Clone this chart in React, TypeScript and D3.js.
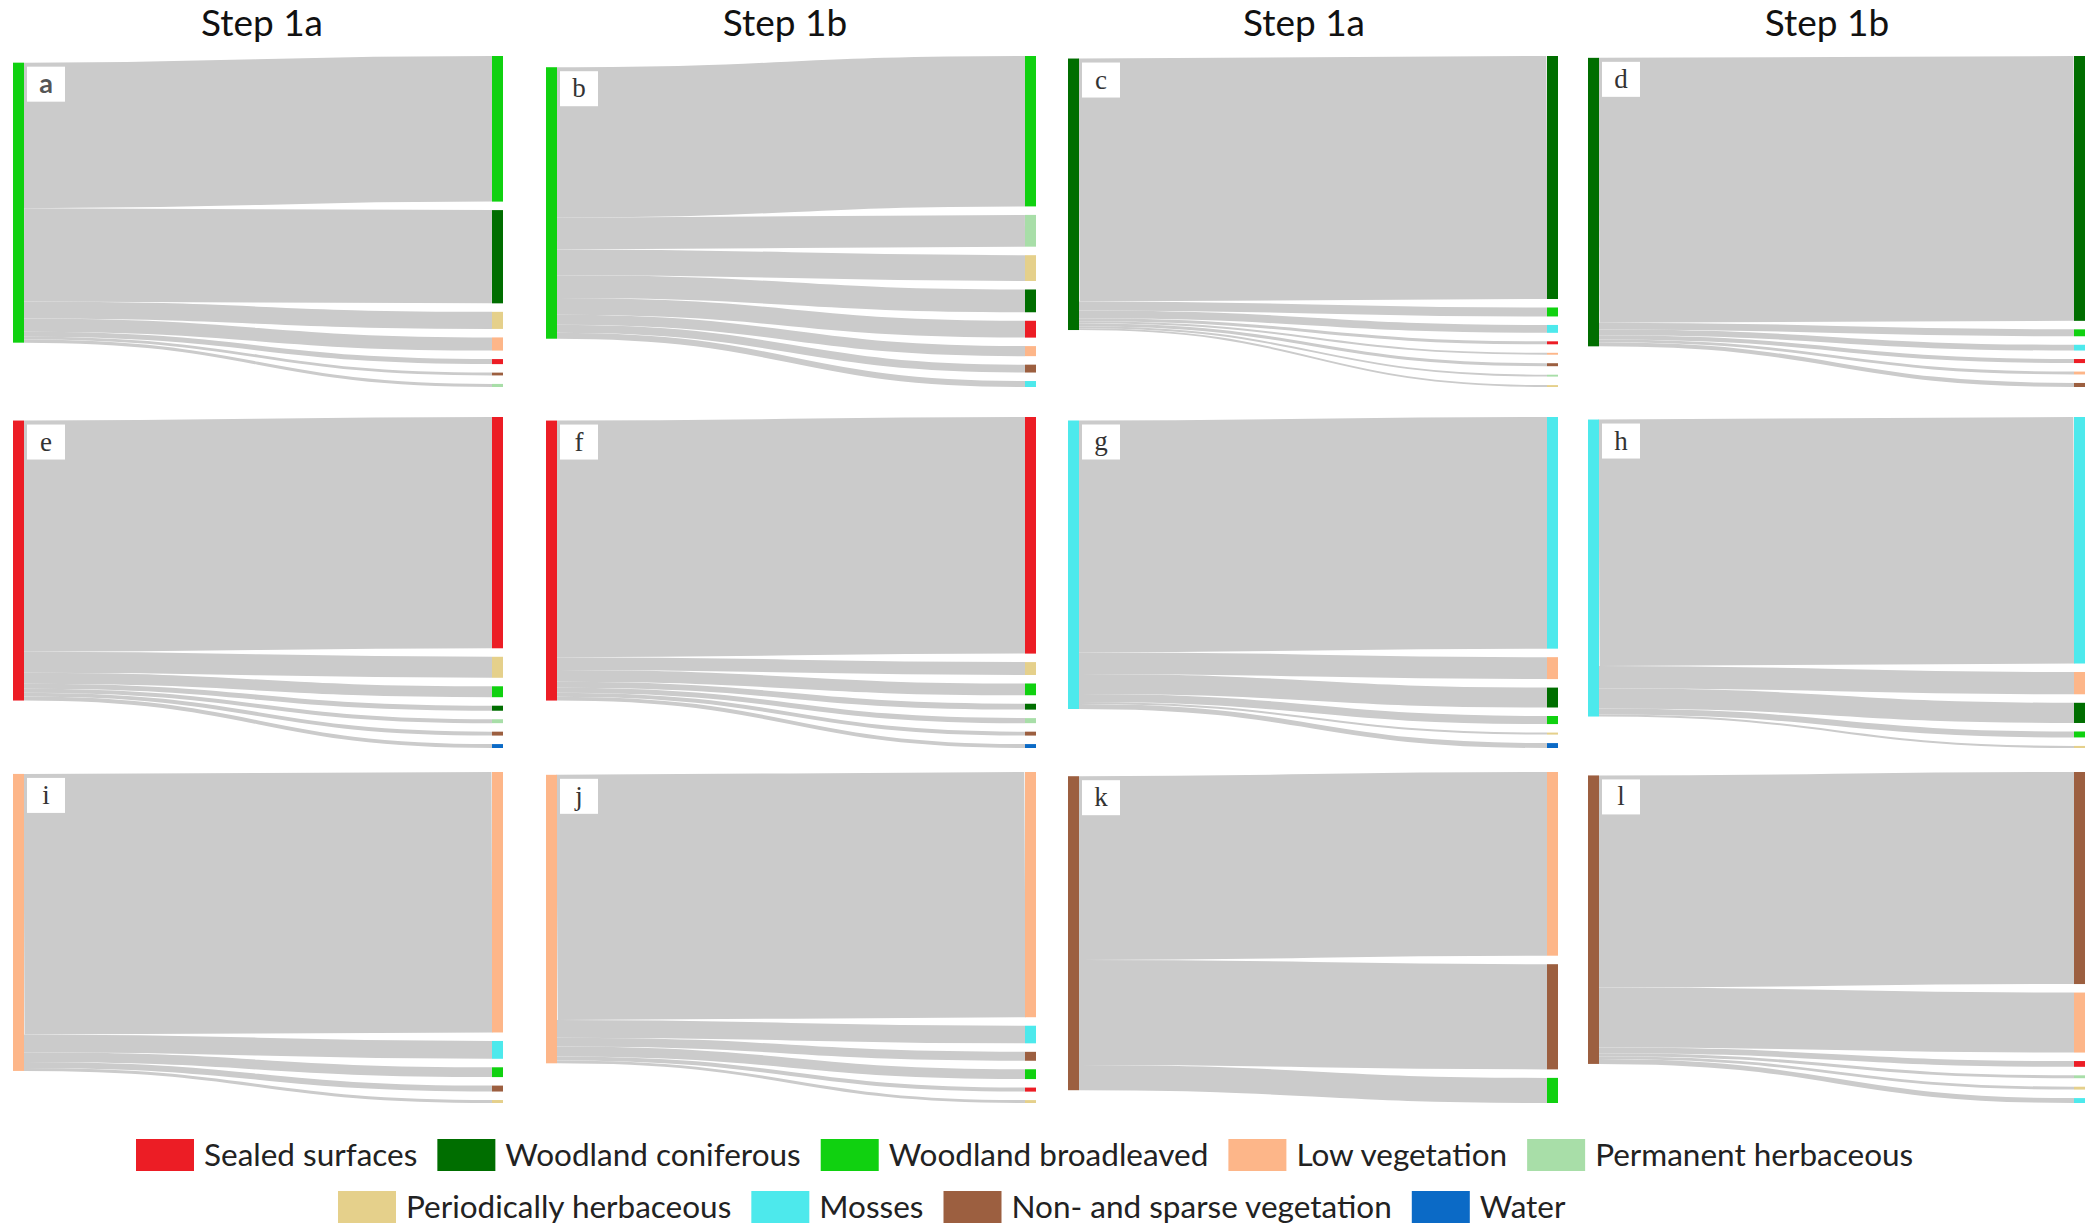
import React, { useEffect, useRef } from 'react';
import * as d3 from 'd3';

// Land-cover classes
const classCodes = ['SS', 'WC', 'WB', 'LV', 'PH', 'PE', 'MO', 'NS', 'WA'];
const classNames = [
  'Sealed surfaces',
  'Woodland coniferous',
  'Woodland broadleaved',
  'Low vegetation',
  'Permanent herbaceous',
  'Periodically herbaceous',
  'Mosses',
  'Non- and sparse vegetation',
  'Water',
];
const classColors = ['#ec1d25', '#006e00', '#10d110', '#fdb689', '#a8dea8', '#e5d08b', '#4de9ec', '#9c5f40', '#0b6ac6'];

const stepTitles = ['Step 1a', 'Step 1b', 'Step 1a', 'Step 1b'];
const panelLetters = ['a', 'b', 'c', 'd', 'e', 'f', 'g', 'h', 'i', 'j', 'k', 'l'];
const panelSources = ['WB', 'WB', 'WC', 'WC', 'SS', 'SS', 'MO', 'MO', 'LV', 'LV', 'NS', 'NS'];

// Flows (share of source class, %) — targets in drawn order
const panelA_targets = ['WB', 'WC', 'PE', 'LV', 'SS', 'NS', 'PH'];
const panelA_values = [52.0, 33.3, 6.1, 4.7, 1.8, 1.0, 1.1];
const panelB_targets = ['WB', 'PH', 'PE', 'WC', 'SS', 'LV', 'NS', 'MO'];
const panelB_values = [55.4, 11.7, 9.5, 8.4, 6.2, 3.7, 2.9, 2.2];
const panelC_targets = ['WC', 'WB', 'MO', 'SS', 'LV', 'NS', 'PH', 'PE'];
const panelC_values = [89.5, 3.3, 2.9, 1.1, 0.7, 1.1, 0.7, 0.7];
const panelD_targets = ['WC', 'WB', 'MO', 'SS', 'LV', 'NS'];
const panelD_values = [91.8, 2.4, 2.0, 1.4, 1.0, 1.4];
const panelE_targets = ['SS', 'PE', 'WB', 'WC', 'PH', 'NS', 'WA'];
const panelE_values = [82.6, 7.5, 3.9, 1.8, 1.4, 1.4, 1.4];
const panelF_targets = ['SS', 'PE', 'WB', 'WC', 'PH', 'NS', 'WA'];
const panelF_values = [84.5, 4.6, 4.2, 2.1, 1.8, 1.4, 1.4];
const panelG_targets = ['MO', 'LV', 'WC', 'WB', 'PE', 'WA'];
const panelG_values = [80.3, 7.6, 6.9, 2.8, 0.7, 1.7];
const panelH_targets = ['MO', 'LV', 'WC', 'WB', 'PE'];
const panelH_values = [83.0, 7.5, 6.8, 2.0, 0.7];
const panelI_targets = ['LV', 'MO', 'WB', 'NS', 'PE'];
const panelI_values = [87.7, 6.0, 3.3, 2.0, 1.0];
const panelJ_targets = ['LV', 'MO', 'NS', 'WB', 'SS', 'PE'];
const panelJ_values = [85.0, 6.1, 3.1, 3.4, 1.4, 1.0];
const panelK_targets = ['LV', 'NS', 'WB'];
const panelK_values = [58.5, 33.5, 8.0];
const panelL_targets = ['NS', 'LV', 'SS', 'PH', 'PE', 'MO'];
const panelL_values = [73.5, 20.8, 2.0, 1.0, 1.0, 1.7];

const legendRow1 = ['SS', 'WC', 'WB', 'LV', 'PH'];
const legendRow2 = ['PE', 'MO', 'NS', 'WA'];

const panelTargets = [
  panelA_targets, panelB_targets, panelC_targets, panelD_targets,
  panelE_targets, panelF_targets, panelG_targets, panelH_targets,
  panelI_targets, panelJ_targets, panelK_targets, panelL_targets,
];
const panelValues = [
  panelA_values, panelB_values, panelC_values, panelD_values,
  panelE_values, panelF_values, panelG_values, panelH_values,
  panelI_values, panelJ_values, panelK_values, panelL_values,
];

// Layout
const W = 2086;
const H = 1225;
const colLeft = [13, 546, 1068, 1588];
const colRight = [492, 1025, 1547, 2074];
const titleX = [262, 785, 1304, 1827];
const rowTop = [56, 417, 772];
const rowBottom = [387, 748, 1103];
const nodeW = 11;
const nodePad = 8.5;
const linkColor = '#cbcbcb';

export default function App() {
  const ref = useRef<SVGSVGElement>(null);

  useEffect(() => {
    const svg = d3.select(ref.current);
    svg.selectAll('*').remove();

    const color = d3.scaleOrdinal<string, string>().domain(classCodes).range(classColors);
    const label = d3.scaleOrdinal<string, string>().domain(classCodes).range(classNames);

    // Titles
    svg.selectAll('text.title')
      .data(stepTitles)
      .join('text')
      .attr('class', 'title')
      .attr('x', (_d, i) => titleX[i])
      .attr('y', 36)
      .attr('text-anchor', 'middle')
      .attr('font-family', 'Lato, "Open Sans", sans-serif')
      .attr('font-size', 37)
      .attr('fill', '#111')
      .text((d) => d);

    const link = d3.linkHorizontal<any, any>()
      .source((d: any) => d.source)
      .target((d: any) => d.target);

    panelLetters.forEach((letter, p) => {
      const col = p % 4;
      const row = Math.floor(p / 4);
      const values = panelValues[p];
      const targets = panelTargets[p];
      const n = values.length;
      const total = d3.sum(values);
      const yTop = rowTop[row];
      const yBot = rowBottom[row];
      const ky = (yBot - yTop - (n - 1) * nodePad) / total;
      const hScale = d3.scaleLinear().domain([0, total]).range([0, total * ky]);

      // target nodes
      let yAcc = yTop;
      const tNodes = values.map((v, i) => {
        const h = hScale(v);
        const node = { code: targets[i], y0: yAcc, y1: yAcc + h };
        yAcc += h + nodePad;
        return node;
      });
      // source link offsets
      let off = 0;
      const offs = values.map((v) => {
        const h = hScale(v);
        const o = { a: off, c: off + h / 2 };
        off += h;
        return o;
      });
      // source position by weighted relaxation toward targets
      const srcY0 = d3.sum(values, (v, i) => v * ((tNodes[i].y0 + tNodes[i].y1) / 2 - offs[i].c)) / total;
      const srcH = hScale(total);

      const xL = colLeft[col];
      const xR = colRight[col];
      const g = svg.append('g');

      const links = values.map((v, i) => ({
        width: hScale(v),
        source: [xL + nodeW, srcY0 + offs[i].c],
        target: [xR, (tNodes[i].y0 + tNodes[i].y1) / 2],
      }));

      g.append('g')
        .selectAll('path')
        .data(links)
        .join('path')
        .attr('d', (d) => link(d) as string)
        .attr('fill', 'none')
        .attr('stroke', linkColor)
        .attr('stroke-width', (d) => Math.max(1.2, d.width));

      // source node
      g.append('rect')
        .attr('x', xL)
        .attr('y', srcY0)
        .attr('width', nodeW)
        .attr('height', srcH)
        .attr('fill', color(panelSources[p]));

      // target nodes
      g.append('g')
        .selectAll('rect')
        .data(tNodes)
        .join('rect')
        .attr('x', xR)
        .attr('y', (d) => d.y0)
        .attr('width', nodeW)
        .attr('height', (d) => Math.max(1.5, d.y1 - d.y0))
        .attr('fill', (d) => color(d.code));

      // letter box
      const bx = xL + nodeW + 3;
      const by = srcY0 + 4;
      g.append('rect')
        .attr('x', bx)
        .attr('y', by)
        .attr('width', 38)
        .attr('height', 35)
        .attr('fill', '#ffffff');
      g.append('text')
        .attr('x', bx + 19)
        .attr('y', by + 26)
        .attr('text-anchor', 'middle')
        .attr('font-family', letter === 'a' ? 'Lato, sans-serif' : '"Liberation Serif", "DejaVu Serif", serif')
        .attr('font-weight', letter === 'a' ? 700 : 400)
        .attr('font-size', 27)
        .attr('fill', letter === 'a' ? '#555' : '#333')
        .text(letter);
    });

    // Legend
    const drawLegendRow = (codes: string[], startX: number, cy: number) => {
      let x = startX;
      codes.forEach((c) => {
        svg.append('rect')
          .attr('x', x)
          .attr('y', cy - 16)
          .attr('width', 58)
          .attr('height', 32)
          .attr('fill', color(c));
        const t = svg.append('text')
          .attr('x', x + 68)
          .attr('y', cy + 11)
          .attr('font-family', 'Lato, "Open Sans", sans-serif')
          .attr('font-size', 31.5)
          .attr('fill', '#222')
          .text(label(c));
        const w = (t.node() as SVGTextElement).getComputedTextLength();
        x = x + 68 + w + 20;
      });
    };
    drawLegendRow(legendRow1, 136, 1155);
    drawLegendRow(legendRow2, 338, 1207);
  }, []);

  return (
    <svg
      ref={ref}
      width={W}
      height={H}
      style={{ position: 'absolute', left: 0, top: 0, background: '#fff' }}
    />
  );
}
